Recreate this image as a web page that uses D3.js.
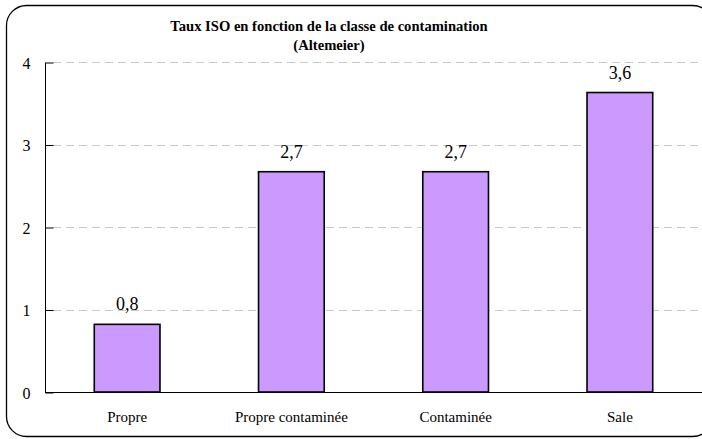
<!DOCTYPE html>
<html>
<head>
<meta charset="utf-8">
<script src="https://cdn.jsdelivr.net/npm/d3@7"></script>
<style>
  html, body { margin: 0; padding: 0; background: #fff; overflow: hidden; }
  svg { display: block; }
  svg text { font-family: "Liberation Serif", "Times New Roman", Times, serif !important; }
</style>
</head>
<body>
<svg id="chart" width="702" height="439"></svg>
<script>
const categories = ["Propre", "Propre contaminée", "Contaminée", "Sale"];
const values = [0.82, 2.67, 2.67, 3.63];
const yTicks = [0, 1, 2, 3, 4];
const titleLines = ["Taux ISO en fonction de la classe de contamination", "(Altemeier)"];

const svg = d3.select("#chart");
const W = 702, H = 439;
const m = { left: 45, right: 0, top: 62, bottom: 47 };

// outer rounded frame
svg.append("rect")
  .attr("x", 6.5).attr("y", 5.5)
  .attr("width", 706).attr("height", 431)
  .attr("rx", 20).attr("ry", 20)
  .attr("fill", "#fff").attr("stroke", "#000").attr("stroke-width", 1.3);

const x = d3.scaleBand().domain(categories).range([m.left, W - m.right]).paddingInner(0.6).paddingOuter(0.3);
const y = d3.scaleLinear().domain([0, 4]).range([H - m.bottom, m.top]);

// gridlines
svg.append("g").selectAll("line").data(yTicks.filter(d => d > 0)).join("line")
  .attr("x1", m.left + 8).attr("x2", W)
  .attr("y1", d => Math.round(y(d)) + 0.5).attr("y2", d => Math.round(y(d)) + 0.5)
  .attr("stroke", "#c8c8c8").attr("stroke-width", 1)
  .attr("stroke-dasharray", "8,5");

// y axis
const yAxis = d3.axisLeft(y).tickValues(yTicks).tickSize(-8).tickPadding(15).tickFormat(d3.format("d"));
const gy = svg.append("g").attr("transform", `translate(${m.left + 0.5},0.5)`).call(yAxis);
gy.attr("font-family", null);
gy.select(".domain").attr("stroke", "#000").attr("d", `M0,${y(4)}V${y(0)}`);
gy.selectAll(".tick line").attr("stroke", "#000");
gy.selectAll(".tick text").attr("font-size", 16).attr("fill", "#000").attr("dy", "0.36em");

// bars
svg.append("g").selectAll("rect").data(values).join("rect")
  .attr("x", (d, i) => x(categories[i]))
  .attr("y", d => y(d))
  .attr("width", x.bandwidth())
  .attr("height", d => y(0) - y(d))
  .attr("fill", "#cc99ff").attr("stroke", "#000").attr("stroke-width", 1.6);

// x axis
const xAxis = d3.axisBottom(x).tickSize(0).tickPadding(19);
const gx = svg.append("g").attr("transform", `translate(0,${y(0) + 0.5})`).call(xAxis);
gx.attr("font-family", null);
gx.select(".domain").attr("stroke", "#000").attr("d", `M${m.left},0H${W}`);
gx.selectAll(".tick text").attr("font-size", 15).attr("fill", "#000");

// value labels
const fmt = d => d3.format(".1f")(d).replace(".", ",");
svg.append("g").selectAll("text").data(values).join("text")
  .attr("x", (d, i) => x(categories[i]) + x.bandwidth() / 2)
  .attr("y", d => y(d) - 14)
  .attr("text-anchor", "middle")
  .attr("font-size", 18).attr("fill", "#000")
  .text(fmt);

// title
svg.append("g").selectAll("text").data(titleLines).join("text")
  .attr("x", 329).attr("y", (d, i) => 31 + i * 18.6)
  .attr("text-anchor", "middle")
  .attr("font-weight", "bold").attr("font-size", 14.6).attr("fill", "#000")
  .text(d => d);
</script>
</body>
</html>
